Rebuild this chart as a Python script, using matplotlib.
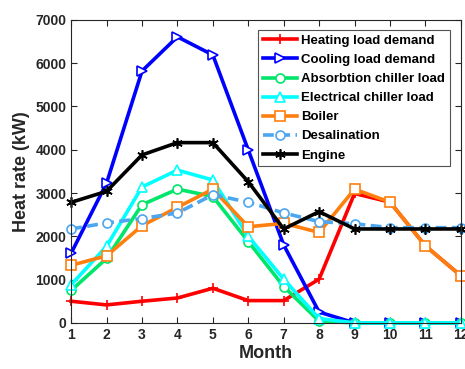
import matplotlib.pyplot as plt
import numpy as np

plt.rcParams['font.family'] = ['Liberation Sans', 'DejaVu Sans']
plt.rcParams['font.weight'] = 'bold'

months = np.arange(1, 13)
heating = [500, 415, 500, 575, 800, 515, 515, 1010, 2990, 2790, 1780, 1090]
cooling = [1610, 3230, 5820, 6610, 6190, 3995, 1800, 250, 0, 0, 0, 0]
absorption = [750, 1490, 2730, 3090, 2920, 1880, 840, 40, 0, 0, 0, 0]
electrical = [880, 1770, 3140, 3530, 3300, 2000, 1010, 100, 0, 0, 0, 0]
boiler = [1330, 1550, 2245, 2670, 3090, 2220, 2300, 2090, 3090, 2790, 1780, 1090]
desalination = [2170, 2310, 2410, 2540, 2960, 2790, 2540, 2340, 2290, 2200, 2200, 2200]
engine = [2785, 3040, 3880, 4165, 4165, 3260, 2170, 2570, 2170, 2170, 2170, 2170]

fig = plt.figure(figsize=(4.65, 3.69), dpi=100)
ax = fig.add_axes([0.153, 0.125, 0.838, 0.821])

lw = 2.6
ms = 6.5
ax.plot(months, heating, color='#ff0000', lw=lw, marker='+', ms=ms + 1, mew=1.2,
        label='Heating load demand', clip_on=False)
ax.plot(months, cooling, color='#0000ff', lw=lw, marker='>', ms=ms, mfc='white', mew=1.2,
        label='Cooling load demand', clip_on=False)
ax.plot(months, absorption, color='#00e66a', lw=lw, marker='o', ms=ms, mfc='white', mew=1.2,
        label='Absorbtion chiller load', clip_on=False)
ax.plot(months, electrical, color='#00ffff', lw=lw, marker='^', ms=ms, mfc='white', mew=1.2,
        label='Electrical chiller load', clip_on=False)
ax.plot(months, boiler, color='#ff7f0e', lw=lw, marker='s', ms=ms, mfc='white', mew=1.2,
        label='Boiler', clip_on=False)
ax.plot(months, desalination, color='#4da6f0', lw=lw, ls='--', dashes=(3, 1.5), marker='o',
        ms=ms, mfc='white', mew=1.2, label='Desalination', clip_on=False)
ax.plot(months, engine, color='#000000', lw=lw, marker=(6, 2, 0), ms=ms + 1, mew=1.2,
        label='Engine', clip_on=False)

ax.set_xlim(1, 12)
ax.set_ylim(0, 7000)
ax.set_xticks(months)
ax.set_yticks(np.arange(0, 7001, 1000))
ax.tick_params(direction='in', top=True, right=True, labelsize=10, length=4,
               colors='#262626', width=0.8)
for lab in ax.get_xticklabels() + ax.get_yticklabels():
    lab.set_fontweight('bold')
for sp in ax.spines.values():
    sp.set_color('#262626')
    sp.set_linewidth(0.8)

ax.set_xlabel('Month', fontsize=13, fontweight='bold', color='#262626', labelpad=2)
ax.set_ylabel('Heat rate (kW)', fontsize=13, fontweight='bold', color='#262626', labelpad=4)

leg = ax.legend(loc='upper right', bbox_to_anchor=(0.978, 0.975), fontsize=9.5,
                frameon=True, fancybox=False, edgecolor='#262626', handlelength=2.6,
                borderpad=0.35, labelspacing=0.52, handletextpad=0.3, borderaxespad=0.2)
leg.get_frame().set_linewidth(0.8)
for t in leg.get_texts():
    t.set_fontweight('bold')

fig.savefig('out.png', dpi=100)
